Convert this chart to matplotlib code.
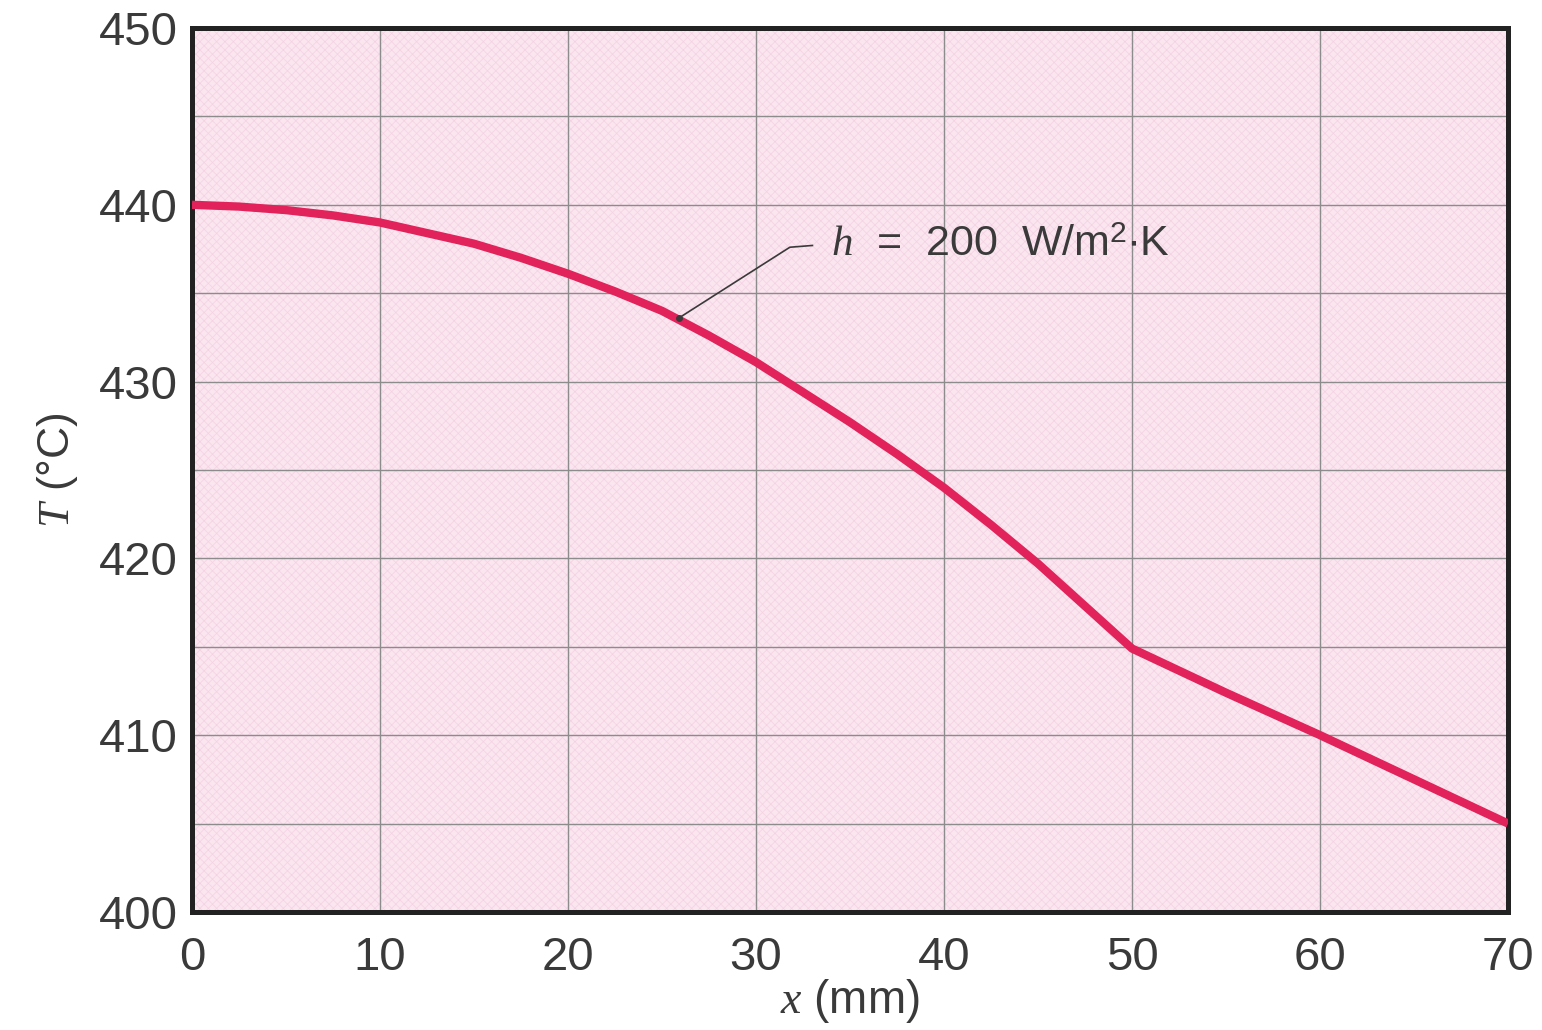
"""Fin temperature profile T(x) for h = 200 W/m^2.K."""
import matplotlib
matplotlib.use("Agg")
import matplotlib.pyplot as plt
from matplotlib.patches import Rectangle
from matplotlib.ticker import MultipleLocator

plt.rcParams["mathtext.fontset"] = "custom"
plt.rcParams["mathtext.rm"] = "Liberation Sans"
plt.rcParams["mathtext.it"] = "Liberation Serif:italic"
plt.rcParams["hatch.linewidth"] = 0.5

# position along the fin (mm) and temperature (deg C)
x_mm = [0, 2.5, 5, 7.5, 10, 12.5, 15, 17.5, 20, 22.5, 25, 27.5, 30, 32.5,
        35, 37.5, 40, 42.5, 45, 47.5, 50, 55, 60, 65, 70]
temp_c = [440.0, 439.9, 439.7, 439.4, 439.0, 438.4, 437.8, 437.0, 436.1,
          435.1, 434.0, 432.6, 431.1, 429.4, 427.7, 425.9, 424.0, 421.9,
          419.7, 417.3, 414.9, 412.4, 410.0, 407.5, 405.0]

x_ticks = [0, 10, 20, 30, 40, 50, 60, 70]
y_ticks = [400, 410, 420, 430, 440, 450]

LINE = "#e2225a"
FACE = "#fbe5ef"
SCREEN = "#f3d3e2"
GRID = "#8c8c8c"
INK = "#3a3a3a"
SANS = "Liberation Sans"

fig = plt.figure(figsize=(15.42, 10.30), dpi=100)
ax = fig.add_axes([0.1245, 0.1146, 0.8535, 0.8582])
ax.set_facecolor(FACE)
# faint halftone screen on the plot area
ax.add_patch(Rectangle((0, 0), 1, 1, transform=ax.transAxes, facecolor="none",
                       edgecolor=SCREEN, hatch="xxxx", lw=0, zorder=0.4))

ax.plot(x_mm, temp_c, color=LINE, lw=6, solid_capstyle="butt",
        solid_joinstyle="round", zorder=3)

ax.set_xlim(0, 70)
ax.set_ylim(400, 450)
ax.set_xticks(x_ticks)
ax.set_yticks(y_ticks)
ax.yaxis.set_minor_locator(MultipleLocator(5))
ax.grid(True, which="major", axis="x", color=GRID, lw=1.0)
ax.grid(True, which="both", axis="y", color=GRID, lw=1.0)
ax.set_axisbelow(True)

ax.tick_params(which="both", length=0)
ax.tick_params(axis="x", pad=17, labelsize=34, labelcolor=INK)
ax.tick_params(axis="y", pad=10, labelsize=34, labelcolor=INK)
for lab in ax.get_xticklabels() + ax.get_yticklabels():
    lab.set_fontfamily(SANS)

for sp in ax.spines.values():
    sp.set_linewidth(3.6)
    sp.set_color("#222222")

ax.set_xlabel("$x$ (mm)", fontsize=33, family=SANS, color=INK, labelpad=-2)
ax.set_ylabel("$T$ (°C)", fontsize=32, family=SANS, color=INK, labelpad=14)

# leader from the curve to the label
lead_x = [25.9, 31.8, 33.0]
lead_y = [433.6, 437.6, 437.7]
ax.plot(lead_x, lead_y, color=INK, lw=1.2, zorder=4)
ax.plot(lead_x[:1], lead_y[:1], "o", color=INK, ms=4, zorder=4)
ax.text(34.0, 437.7, "$h$  =  200  W/m$^2$∙K", fontsize=31, family=SANS,
        color=INK, ha="left", va="center", zorder=4)

fig.savefig("out.png", dpi=100, facecolor="white")
